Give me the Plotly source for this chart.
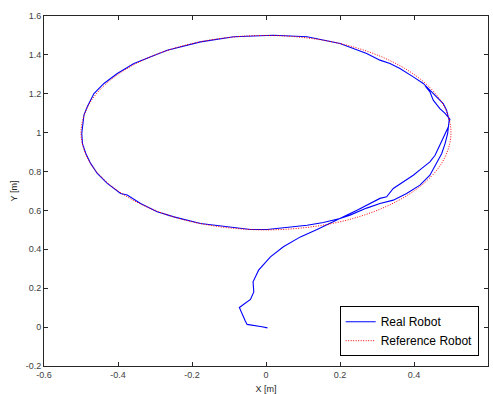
import plotly.graph_objects as go

# Real robot trajectory
real_x = [0.004, -0.011, -0.051, -0.056, -0.072, -0.042, -0.033, -0.035, -0.020, 0.012, 0.047, 0.093, 0.138, 0.196,
          0.250, 0.308, 0.326, 0.344, 0.371, 0.398, 0.421, 0.443, 0.457, 0.470, 0.479, 0.486, 0.493, 0.495,
          0.488, 0.479, 0.466, 0.443, 0.425, 0.398, 0.362, 0.335, 0.308, 0.272, 0.200, 0.111, 0.020,
          -0.087, -0.177, -0.267, -0.357, -0.402, -0.438, -0.465, -0.483, -0.492, -0.496, -0.498, -0.496,
          -0.487, -0.474, -0.456, -0.429, -0.393, -0.375, -0.339, -0.294, -0.249, -0.177, -0.105, -0.042,
          0.003, 0.066, 0.111, 0.155, 0.200, 0.227,
          0.272, 0.308, 0.344, 0.380, 0.416, 0.443, 0.461, 0.475, 0.484, 0.491, 0.494, 0.497,
          0.484, 0.470, 0.452, 0.443, 0.430]
real_y = [-0.004, 0.002, 0.014, 0.032, 0.101, 0.142, 0.181, 0.233, 0.293, 0.361, 0.413, 0.464, 0.502, 0.555,
          0.605, 0.662, 0.670, 0.713, 0.747, 0.781, 0.816, 0.850, 0.884, 0.936, 0.970, 1.004, 1.030, 1.064,
          1.116, 1.150, 1.176, 1.219, 1.253, 1.287, 1.330, 1.356, 1.373, 1.407, 1.459, 1.493, 1.501,
          1.493, 1.467, 1.424, 1.356, 1.304, 1.253, 1.201, 1.133, 1.090, 1.039, 0.996, 0.944,
          0.893, 0.842, 0.790, 0.739, 0.687, 0.679, 0.636, 0.593, 0.567, 0.533, 0.516, 0.502,
          0.502, 0.516, 0.524, 0.538, 0.559, 0.576,
          0.612, 0.636, 0.653, 0.687, 0.730, 0.781, 0.842, 0.893, 0.944, 0.996, 1.047, 1.070,
          1.099, 1.124, 1.167, 1.210, 1.240]

# Reference robot path
ref_x = [0.000, 0.087, 0.171, 0.250, 0.321, 0.383, 0.433, 0.470, 0.492, 0.500, 0.492, 0.470, 0.433,
         0.383, 0.321, 0.250, 0.171, 0.087, 0.000, -0.087, -0.171, -0.250, -0.321, -0.383, -0.433,
         -0.470, -0.492, -0.500, -0.492, -0.470, -0.433, -0.383, -0.321, -0.250, -0.171, -0.087, 0.000]
ref_y = [0.500, 0.508, 0.530, 0.567, 0.617, 0.679, 0.750, 0.829, 0.913, 1.000, 1.087, 1.171, 1.250,
         1.321, 1.383, 1.433, 1.470, 1.492, 1.500, 1.492, 1.470, 1.433, 1.383, 1.321, 1.250,
         1.171, 1.087, 1.000, 0.913, 0.829, 0.750, 0.679, 0.617, 0.567, 0.530, 0.508, 0.500]

x_ticks = [-0.6, -0.4, -0.2, 0, 0.2, 0.4, 0.6]
x_labels = ["-0.6", "-0.4", "-0.2", "0", "0.2", "0.4", "0.6"]
y_ticks = [-0.2, 0, 0.2, 0.4, 0.6, 0.8, 1.0, 1.2, 1.4, 1.6]
y_labels = ["-0.2", "0", "0.2", "0.4", "0.6", "0.8", "1", "1.2", "1.4", "1.6"]

fig = go.Figure()
fig.add_trace(go.Scatter(x=real_x, y=real_y, mode="lines", name="Real Robot",
                         line=dict(color="#0000ff", width=1.1)))
fig.add_trace(go.Scatter(x=ref_x, y=ref_y, mode="lines", name="Reference Robot",
                         line=dict(color="#ff0000", width=1, dash="1px,1.5px", shape="spline")))

axis_common = dict(showline=True, linecolor="#262626", linewidth=1, mirror="ticks",
                   ticks="inside", ticklen=4, tickcolor="#262626", showgrid=False, zeroline=False,
                   automargin=False,
                   tickfont=dict(family="Liberation Sans", size=9, color="#404040"))

fig.update_layout(
    width=493, height=394,
    margin=dict(l=43.5, r=5, t=16, b=28),
    paper_bgcolor="white", plot_bgcolor="white",
    font=dict(family="Liberation Sans", color="#262626"),
    xaxis=dict(range=[-0.6, 0.6], tickvals=x_ticks, ticktext=x_labels,
               title=dict(text="X [m]", font=dict(size=9, color="#262626"), standoff=6), **axis_common),
    yaxis=dict(range=[-0.2, 1.6], tickvals=y_ticks, ticktext=y_labels,
               title=dict(text="Y [m]", font=dict(size=9, color="#262626"), standoff=6), **axis_common),
    showlegend=True,
    legend=dict(x=0.979, y=0.028, xanchor="right", yanchor="bottom",
                bgcolor="white", bordercolor="#000000", borderwidth=1,
                font=dict(family="Liberation Sans", size=12, color="#000000"),
                itemwidth=30, tracegroupgap=0),
)

fig.write_html("out.html")
